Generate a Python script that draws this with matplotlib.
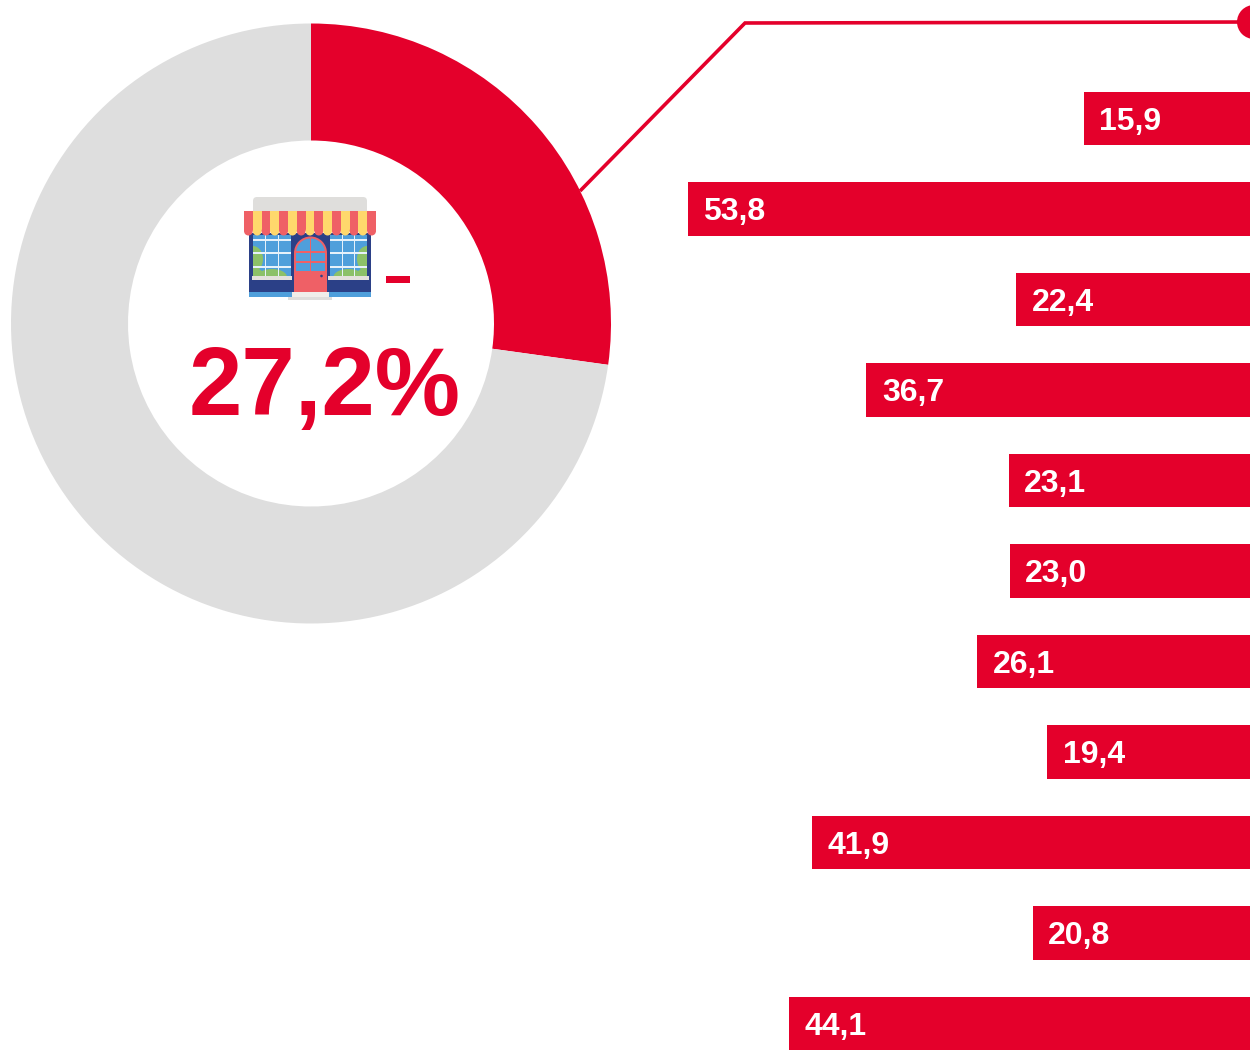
import matplotlib
matplotlib.use("Agg")
import matplotlib.pyplot as plt
from matplotlib.patches import Rectangle, FancyBboxPatch, Circle, Wedge, Ellipse

plt.rcParams['font.family'] = ['Liberation Sans', 'DejaVu Sans']

# data
share_labels = ['27,2%']
share_values = [27.2, 72.8]
bar_values = [15.9, 53.8, 22.4, 36.7, 23.1, 23.0, 26.1, 19.4, 41.9, 20.8, 44.1]
bar_labels = ['15,9', '53,8', '22,4', '36,7', '23,1', '23,0', '26,1', '19,4', '41,9', '20,8', '44,1']

RED = '#E4002B'
GREY = '#DEDEDE'
CORAL = '#EF6066'
YELLOW = '#FFD86C'
BLUE = '#4F9FDB'
NAVY = '#2B4087'
GREEN = '#8CC168'
W, H = 1250, 1054

fig = plt.figure(figsize=(W / 100, H / 100), dpi=100, facecolor='white')

# overlay in pixel coordinates, for the leader line and the shop icon
ov = fig.add_axes([0, 0, 1, 1], zorder=3)
ov.set_xlim(0, W)
ov.set_ylim(H, 0)
ov.axis('off')

# donut
ax_pie = fig.add_axes([11 / W, (H - 623.5) / H, 600 / W, 600 / H], zorder=2)
ax_pie.pie(share_values, colors=[RED, GREY], startangle=90, counterclock=False,
           radius=1, wedgeprops={'width': 0.39, 'linewidth': 0})
ax_pie.set_xlim(-1, 1)
ax_pie.set_ylim(-1, 1)

# bars, right aligned, 10.45 px per unit
ax_bar = fig.add_axes([0, 0, 1, 1], zorder=1)
ax_bar.set_xlim(W / 10.45, 0)
ax_bar.set_ylim((H - 118.7) / 90.5, -118.7 / 90.5)
ax_bar.axis('off')
positions = range(len(bar_values))
ax_bar.barh(positions, bar_values, height=53.5 / 90.5, color=RED, linewidth=0)
for pos, val, lab in zip(positions, bar_values, bar_labels):
    ax_bar.annotate(lab, (val, pos), xytext=(11.2, -2.2), textcoords='offset points',
                    ha='left', va='center', color='white', fontsize=23, fontweight='bold')

# leader line
ov.plot([580, 745, W], [191, 23, 22], color=RED, lw=2.6, solid_joinstyle='miter', solid_capstyle='butt')
ov.add_patch(Circle((1254, 22), 17, color=RED, lw=0))

# big number
ov.text(325, 390, share_labels[0], color=RED, fontsize=69, fontweight='bold', ha='center', va='center')


def rect(x0, y0, x1, y1, color, z=3):
    ov.add_patch(Rectangle((x0, y0), x1 - x0, y1 - y0, facecolor=color, linewidth=0, zorder=z))


def window(x0, x1, bush_x):
    clip = Rectangle((x0, 235), x1 - x0, 41, transform=ov.transData)
    rect(x0, 235, x1, 276, BLUE)
    for cx, cy, rx, ry in [(bush_x, 259, 10, 13), ((x0 + x1) / 2, 277, 15, 8), (bush_x, 277, 12, 9)]:
        e = Ellipse((cx, cy), rx * 2, ry * 2, facecolor=GREEN, linewidth=0, zorder=3.2)
        ov.add_patch(e)
        e.set_clip_path(clip)
    for f in (1 / 3, 2 / 3):
        gx = x0 + (x1 - x0) * f
        rect(gx - 0.7, 235, gx + 0.7, 276, '#E6F1FA', 3.4)
    for gy in (240, 253, 267):
        rect(x0, gy - 0.7, x1, gy + 0.7, '#E6F1FA', 3.4)


# shop icon
ov.add_patch(FancyBboxPatch((253, 197), 114, 18, boxstyle='round,pad=0,rounding_size=4', linewidth=0,
                            facecolor='#DFDEDC', zorder=3))
rect(249, 233, 371, 292, NAVY)
rect(249, 292, 371, 297, BLUE)
window(253, 291, 253)
window(330, 367, 367)
rect(252, 276, 292, 280, '#E3E1DC', 3.5)
rect(328, 276, 369, 280, '#E3E1DC', 3.5)

# door
rect(294, 253, 327, 292, CORAL, 3.5)
ov.add_patch(Wedge((310.5, 253), 16.5, 180, 360, facecolor=CORAL, linewidth=0, zorder=3.5))
rect(296, 253, 325, 271, BLUE, 3.6)
ov.add_patch(Wedge((310.5, 253), 14.5, 180, 360, facecolor=BLUE, linewidth=0, zorder=3.6))
rect(309.6, 238, 311.4, 271, CORAL, 3.7)
rect(296, 250.5, 325, 252.5, CORAL, 3.7)
rect(296, 260.5, 325, 262.5, CORAL, 3.7)
ov.add_patch(Circle((321.5, 276), 1.3, facecolor=NAVY, linewidth=0, zorder=3.7))

# steps
rect(292, 292, 329, 297, '#F0EEEA', 3.5)
rect(288, 297, 332, 300, '#DFDEDC', 3.5)

# awning
n_stripes = 15
sw = (376 - 244) / n_stripes
for i in range(n_stripes):
    c = CORAL if i % 2 == 0 else YELLOW
    x0 = 244 + i * sw
    rect(x0, 211, x0 + sw, 231, c, 4)
    ov.add_patch(Ellipse((x0 + sw / 2, 231), sw, 9, facecolor=c, linewidth=0, zorder=4))

# dash after the icon
rect(386, 276, 410, 283, RED)

fig.savefig('out.png', dpi=100)
